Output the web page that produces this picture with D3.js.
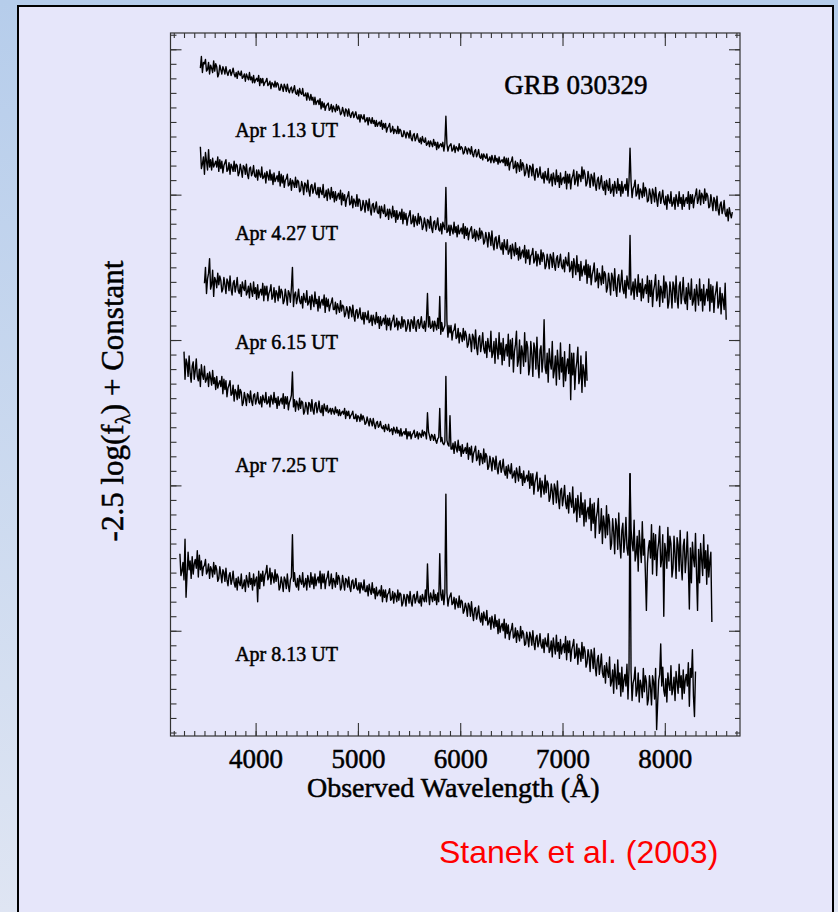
<!DOCTYPE html>
<html>
<head>
<meta charset="utf-8">
<script src="https://cdn.jsdelivr.net/npm/d3@7"></script>
<style>
  body { margin: 0; }
  svg text { font-family: "Liberation Serif", "Times New Roman", serif; fill: #000; }
</style>
</head>
<body>
<script>
// GRB 030329 spectra, sampled every 10 A from the start wavelength
// values: -2.5 log(f) + constant, in units of 0.01 mag
var step = 10;
var epochs = ["Apr 1.13 UT", "Apr 4.27 UT", "Apr 6.15 UT", "Apr 7.25 UT", "Apr 8.13 UT"];
var startWave = [3460, 3460, 3500, 3300, 3260];

var apr01 = [
  13, 5, 16, 9, 10, 7, 15, 14, 9, 17, 11, 13, 16, 8, 15, 10, 12, 19, 17, 11,
  14, 17, 12, 14, 17, 12, 16, 18, 15, 14, 18, 16, 13, 17, 19, 16, 20, 15, 17, 18,
  15, 20, 19, 17, 22, 17, 19, 21, 16, 21, 19, 23, 18, 23, 21, 20, 22, 18, 25, 20,
  23, 20, 25, 23, 22, 20, 25, 24, 22, 27, 23, 24, 26, 22, 26, 23, 24, 28, 28, 24,
  26, 29, 24, 26, 29, 24, 28, 30, 27, 26, 30, 28, 25, 30, 31, 28, 32, 27, 30, 31,
  27, 32, 32, 30, 35, 30, 33, 35, 31, 35, 33, 38, 33, 38, 36, 35, 38, 34, 41, 36,
  40, 37, 42, 39, 38, 37, 42, 41, 38, 43, 39, 41, 43, 38, 42, 39, 41, 45, 44, 40,
  43, 46, 41, 42, 46, 41, 45, 47, 44, 43, 47, 45, 43, 47, 48, 45, 50, 45, 47, 48,
  45, 50, 49, 47, 52, 47, 49, 51, 47, 51, 49, 53, 49, 53, 51, 50, 53, 49, 55, 51,
  54, 51, 57, 54, 53, 51, 57, 56, 53, 58, 55, 56, 58, 53, 58, 55, 56, 60, 60, 56,
  58, 61, 57, 58, 61, 56, 61, 63, 59, 58, 63, 61, 58, 62, 64, 61, 65, 60, 63, 64,
  61, 66, 65, 63, 67, 63, 65, 67, 62, 66, 64, 69, 64, 68, 66, 65, 67, 64, 70, 65,
  46, 65, 70, 67, 66, 65, 70, 69, 66, 71, 67, 68, 70, 65, 69, 67, 68, 72, 71, 67,
  69, 72, 68, 69, 72, 67, 72, 74, 70, 69, 74, 72, 69, 74, 75, 72, 76, 72, 74, 75,
  72, 77, 76, 74, 78, 73, 76, 78, 73, 77, 75, 79, 74, 78, 77, 76, 78, 74, 80, 75,
  80, 75, 83, 78, 77, 74, 82, 81, 77, 85, 78, 80, 84, 76, 83, 78, 80, 87, 85, 79,
  83, 88, 80, 81, 87, 79, 86, 90, 83, 82, 88, 86, 81, 88, 89, 85, 92, 84, 88, 90,
  82, 92, 90, 86, 94, 85, 89, 93, 83, 91, 87, 95, 85, 93, 89, 88, 92, 84, 96, 86,
  92, 86, 96, 89, 87, 83, 93, 90, 84, 94, 86, 87, 91, 81, 89, 83, 86, 94, 92, 84,
  89, 95, 86, 88, 94, 85, 93, 97, 90, 88, 96, 92, 87, 95, 97, 91, 100, 90, 94, 97,
  89, 99, 97, 93, 101, 91, 95, 99, 89, 97, 93, 101, 91, 99, 95, 93, 97, 89, 101, 91,
  68, 91, 102, 96, 94, 90, 101, 99, 93, 103, 96, 98, 102, 92, 101, 95, 97, 105, 104, 96,
  100, 106, 96, 99, 105, 95, 103, 108, 100, 98, 106, 102, 97, 105, 107, 101, 110, 100, 104, 106,
  98, 108, 106, 102, 110, 100, 104, 108, 98, 106, 102, 110, 100, 108, 104, 102, 106, 98, 110, 100,
  106, 100, 109, 103, 100, 96, 106, 103, 97, 107, 99, 101, 106, 96, 104, 99, 101, 109, 108, 100,
  105, 111, 102, 104, 111, 101, 110, 114, 107, 105, 113, 110, 104, 113, 115, 110, 118, 109, 113, 116,
  112
];

var apr04 = [
  67, 82, 79, 74, 86, 71, 77, 83, 69, 81, 76, 83, 75, 81, 79, 77, 81, 74, 84, 76,
  82, 77, 85, 80, 78, 76, 84, 83, 78, 86, 79, 81, 84, 77, 84, 79, 80, 87, 85, 79,
  83, 88, 80, 81, 86, 79, 86, 89, 82, 81, 87, 85, 80, 87, 88, 83, 90, 83, 86, 88,
  81, 89, 88, 85, 92, 84, 87, 90, 83, 90, 86, 93, 85, 91, 89, 87, 91, 84, 94, 86,
  92, 87, 95, 90, 89, 86, 94, 93, 89, 97, 90, 92, 95, 88, 95, 90, 91, 98, 97, 91,
  94, 100, 92, 93, 98, 90, 97, 101, 94, 93, 99, 96, 92, 99, 100, 95, 102, 95, 98, 100,
  93, 102, 101, 97, 104, 96, 99, 103, 95, 102, 98, 105, 98, 104, 101, 99, 103, 97, 107, 99,
  104, 100, 108, 103, 101, 98, 107, 106, 101, 109, 103, 105, 108, 100, 108, 103, 104, 111, 110, 104,
  107, 112, 104, 106, 111, 103, 110, 114, 107, 106, 112, 109, 105, 112, 113, 108, 116, 108, 111, 113,
  107, 115, 114, 110, 117, 110, 113, 116, 108, 115, 111, 119, 111, 117, 114, 112, 117, 110, 120, 112,
  117, 113, 121, 116, 114, 111, 120, 119, 114, 122, 115, 118, 121, 113, 120, 115, 117, 124, 122, 116,
  120, 125, 117, 118, 123, 115, 123, 126, 119, 118, 124, 121, 116, 124, 125, 120, 127, 119, 122, 124,
  95, 126, 125, 121, 128, 121, 124, 127, 119, 126, 122, 129, 121, 127, 125, 123, 127, 120, 130, 122,
  128, 123, 131, 126, 124, 122, 130, 129, 124, 132, 125, 128, 131, 123, 130, 125, 127, 134, 132, 126,
  130, 136, 126, 129, 135, 125, 134, 138, 130, 129, 137, 133, 128, 136, 138, 133, 141, 131, 136, 138,
  131, 141, 139, 135, 144, 134, 138, 142, 133, 141, 137, 145, 136, 144, 140, 138, 143, 135, 147, 138,
  144, 138, 148, 142, 141, 137, 147, 145, 139, 149, 141, 144, 148, 138, 146, 140, 142, 151, 149, 141,
  145, 151, 141, 143, 150, 140, 148, 152, 144, 142, 150, 146, 141, 149, 151, 145, 153, 143, 147, 149,
  140, 153, 151, 146, 157, 144, 149, 155, 142, 153, 148, 159, 146, 156, 152, 149, 155, 145, 161, 148,
  157, 149, 162, 155, 152, 147, 160, 159, 151, 164, 154, 157, 162, 149, 161, 153, 155, 167, 164, 154,
  160, 169, 154, 157, 166, 151, 164, 170, 158, 155, 167, 161, 152, 165, 168, 159, 171, 156, 162, 165,
  128, 169, 166, 160, 172, 158, 164, 170, 155, 167, 161, 173, 158, 171, 165, 162, 168, 156, 174, 159,
  170, 159, 177, 166, 162, 155, 173, 170, 159, 177, 163, 167, 174, 156, 171, 160, 163, 178, 174, 160,
  167, 178, 160, 163, 174, 156, 171, 178, 163, 160, 175, 168, 157, 172, 175, 164, 179, 161, 168, 172,
  158, 176, 173, 165, 180, 162, 169, 176, 158, 173, 165, 180, 162, 176, 169, 165, 173, 158, 180, 162,
  174, 163, 181, 170, 166, 160, 178, 175, 164, 182, 168, 172, 179, 161, 186
];

var apr06 = [
  161, 150, 168, 158, 154, 144, 165, 162, 152, 170, 157, 159, 164, 154, 162, 156, 159, 167, 165, 157,
  162, 168, 158, 160, 166, 156, 165, 169, 161, 159, 167, 163, 157, 166, 168, 162, 170, 160, 164, 166,
  159, 169, 167, 163, 171, 161, 166, 170, 160, 168, 164, 172, 162, 171, 167, 165, 169, 161, 173, 163,
  169, 163, 173, 168, 166, 162, 172, 170, 164, 174, 166, 168, 173, 163, 171, 165, 167, 175, 173, 165,
  170, 176, 166, 168, 174, 164, 150, 177, 169, 167, 175, 171, 165, 173, 175, 170, 178, 168, 172, 174,
  166, 176, 174, 170, 179, 169, 173, 177, 167, 175, 172, 180, 170, 178, 174, 172, 176, 169, 181, 171,
  177, 172, 180, 176, 174, 171, 179, 179, 174, 182, 175, 178, 181, 173, 180, 176, 177, 184, 182, 177,
  180, 185, 177, 179, 184, 176, 183, 187, 180, 179, 185, 182, 178, 185, 186, 181, 189, 181, 184, 186,
  180, 188, 187, 183, 190, 183, 186, 189, 181, 188, 184, 192, 184, 190, 187, 185, 189, 183, 193, 185,
  190, 185, 193, 188, 186, 183, 191, 190, 185, 193, 187, 189, 192, 184, 191, 186, 187, 194, 192, 186,
  189, 194, 186, 187, 192, 184, 191, 194, 187, 186, 192, 189, 184, 191, 192, 187, 194, 186, 168, 191,
  184, 192, 191, 187, 194, 187, 190, 193, 185, 192, 170, 196, 188, 194, 192, 190, 133, 187, 198, 190,
  195, 190, 200, 194, 193, 189, 199, 198, 192, 202, 195, 197, 201, 192, 200, 194, 197, 205, 203, 196,
  200, 208, 196, 198, 206, 193, 205, 210, 199, 197, 208, 203, 195, 206, 209, 201, 212, 199, 205, 208,
  194, 212, 209, 201, 216, 199, 206, 213, 195, 210, 202, 217, 199, 214, 207, 203, 211, 196, 218, 200,
  213, 199, 222, 208, 203, 194, 218, 214, 200, 223, 204, 209, 218, 195, 215, 201, 205, 224, 219, 201,
  210, 225, 202, 206, 220, 198, 217, 226, 207, 204, 222, 213, 186, 219, 223, 209, 229, 206, 215, 220,
  201, 226, 221, 211, 231, 207, 217, 227, 202, 222, 212, 232, 208, 228, 218, 213, 223, 203, 241, 209,
  224, 209, 234, 220, 215, 205, 230, 226, 211, 236, 217, 222, 232, 208, 228
];

var apr07 = [
  208, 227, 213, 216, 225, 211, 223, 229, 218, 215, 227, 221, 213, 225, 228, 220, 232, 217, 224, 227,
  218, 229, 227, 223, 232, 222, 226, 231, 221, 230, 226, 234, 225, 233, 230, 228, 232, 225, 237, 227,
  234, 228, 239, 233, 231, 228, 238, 237, 231, 242, 234, 236, 241, 231, 240, 234, 236, 245, 243, 236,
  240, 245, 237, 238, 243, 235, 242, 245, 238, 237, 244, 241, 236, 243, 244, 239, 246, 238, 241, 243,
  236, 244, 243, 239, 246, 238, 241, 244, 236, 243, 240, 247, 239, 245, 242, 240, 244, 237, 247, 239,
  244, 239, 248, 243, 241, 238, 222, 246, 241, 249, 242, 244, 248, 240, 247, 242, 243, 251, 249, 243,
  246, 251, 243, 244, 249, 241, 248, 251, 244, 243, 250, 247, 242, 249, 250, 245, 252, 244, 247, 249,
  245, 250, 249, 247, 251, 247, 249, 251, 246, 250, 248, 252, 248, 252, 250, 249, 251, 247, 254, 249,
  252, 249, 254, 252, 251, 249, 254, 254, 251, 256, 252, 253, 256, 251, 255, 252, 254, 258, 257, 253,
  256, 259, 254, 256, 259, 254, 258, 261, 257, 256, 260, 259, 256, 260, 261, 259, 263, 258, 261, 262,
  258, 263, 262, 261, 265, 260, 262, 264, 260, 264, 262, 266, 261, 266, 264, 263, 265, 261, 268, 263,
  266, 263, 268, 265, 264, 262, 267, 266, 263, 268, 264, 265, 267, 262, 266, 263, 264, 268, 250, 263,
  266, 269, 265, 266, 269, 265, 269, 271, 268, 267, 247, 270, 267, 271, 272, 270, 225, 269, 272, 273,
  252, 275, 275, 271, 278, 270, 274, 277, 269, 276, 273, 280, 272, 278, 276, 274, 278, 271, 282, 274,
  279, 273, 284, 278, 276, 273, 283, 281, 276, 286, 278, 281, 285, 275, 284, 278, 280, 289, 287, 280,
  284, 290, 281, 283, 289, 280, 288, 292, 285, 283, 291, 288, 282, 290, 293, 287, 295, 286, 290, 292,
  285, 295, 293, 290, 298, 288, 292, 297, 287, 295, 292, 300, 290, 298, 295, 293, 297, 290, 302, 292,
  300, 292, 306, 298, 295, 291, 304, 302, 295, 308, 297, 301, 306, 293, 305, 297, 299, 311, 308, 299,
  304, 313, 299, 302, 312, 297, 309, 316, 304, 302, 314, 308, 300, 312, 316, 307, 319, 305, 311, 315,
  301, 319, 317, 309, 325, 307, 315, 322, 305, 320, 312, 328, 310, 325, 318, 315, 323, 309, 331, 313,
  326, 312, 336, 322, 318, 309, 333, 330, 316, 340, 321, 327, 336, 314, 334, 320, 325, 344, 340, 323,
  332, 347, 323, 328, 344, 319, 340, 350, 331, 326, 346, 337, 322, 343, 348, 334, 292, 330, 340, 345,
  324, 352, 347, 335, 359, 331, 342, 353, 325, 348, 337, 360, 386, 354, 343, 338, 350, 327, 361, 333,
  351, 334, 362, 345, 339, 328, 356, 351, 334, 390, 340, 346, 357, 329, 352, 335, 340, 363, 357, 335,
  347, 364, 336, 341, 359, 331, 354, 365, 342, 337, 360, 349, 332, 355, 385, 343, 367, 339, 350, 356,
  333, 361, 386, 344, 367, 340, 351, 362, 334, 357, 345, 368, 341, 363, 352, 346, 394
];

var apr08 = [
  347, 362, 359, 353, 365, 337, 377, 361, 346, 358, 352, 364, 349, 361, 354, 351, 357, 345, 363, 348,
  358, 352, 362, 356, 355, 351, 361, 359, 354, 364, 356, 358, 363, 353, 361, 355, 358, 366, 364, 356,
  361, 367, 358, 360, 366, 357, 365, 369, 362, 360, 368, 365, 359, 367, 370, 364, 372, 363, 367, 369,
  361, 371, 369, 365, 373, 362, 366, 370, 360, 368, 364, 372, 361, 369, 365, 363, 380, 359, 371, 361,
  366, 359, 369, 362, 360, 355, 365, 363, 357, 368, 360, 363, 367, 358, 366, 361, 363, 372, 370, 363,
  367, 373, 363, 365, 371, 361, 369, 373, 365, 363, 334, 366, 360, 368, 370, 364, 372, 362, 366, 368,
  360, 370, 368, 364, 372, 362, 366, 370, 360, 368, 363, 371, 361, 369, 365, 363, 367, 359, 371, 361,
  367, 361, 371, 365, 363, 359, 369, 367, 361, 371, 364, 366, 370, 360, 368, 362, 364, 372, 370, 362,
  367, 372, 364, 365, 370, 363, 370, 373, 366, 365, 371, 369, 364, 371, 372, 367, 374, 367, 370, 372,
  365, 373, 373, 369, 376, 368, 372, 375, 367, 374, 371, 378, 370, 376, 374, 372, 376, 369, 380, 372,
  377, 372, 380, 375, 374, 371, 379, 378, 373, 381, 374, 376, 380, 372, 379, 374, 375, 383, 381, 375,
  378, 383, 375, 376, 381, 373, 380, 383, 376, 375, 381, 378, 373, 380, 381, 376, 383, 375, 378, 380,
  372, 380, 354, 375, 382, 374, 377, 380, 372, 379, 375, 382, 374, 380, 347, 375, 379, 372, 382, 374,
  306, 374, 383, 378, 376, 374, 382, 381, 377, 385, 378, 381, 384, 376, 384, 379, 380, 388, 386, 381,
  384, 390, 381, 383, 390, 380, 388, 393, 385, 384, 392, 388, 383, 391, 394, 388, 396, 387, 391, 393,
  386, 396, 394, 391, 399, 390, 394, 398, 389, 397, 393, 402, 392, 401, 397, 395, 400, 392, 405, 395,
  402, 396, 406, 401, 399, 395, 405, 404, 398, 408, 400, 403, 407, 397, 405, 400, 402, 410, 409, 401,
  405, 411, 401, 404, 410, 400, 408, 413, 405, 403, 411, 408, 402, 410, 412, 406, 415, 405, 409, 411,
  402, 415, 413, 407, 418, 405, 411, 416, 403, 414, 408, 419, 406, 416, 411, 409, 415, 404, 420, 407,
  415, 407, 421, 413, 410, 406, 419, 417, 409, 423, 412, 415, 421, 408, 419, 411, 414, 425, 422, 413,
  418, 428, 413, 417, 426, 412, 425, 431, 420, 417, 430, 424, 416, 429, 432, 424, 436, 422, 428, 432,
  418, 438, 435, 427, 443, 423, 432, 440, 420, 437, 429, 445, 425, 442, 434, 430, 438, 423, 447, 427,
  292, 428, 448, 436, 433, 425, 445, 441, 429, 449, 434, 438, 446, 426, 442, 431, 435, 451, 447, 431,
  439, 451, 431, 435, 447, 426, 468, 450, 434, 430, 409, 438, 425, 441, 445, 433, 449, 429, 437, 441,
  424, 444, 440, 432, 448, 428, 435, 443, 423, 439, 431, 447, 427, 443, 434, 430, 438, 422, 452, 426,
  432, 413, 445, 459, 428
];

var spectra = [apr01, apr04, apr06, apr07, apr08];
// where each epoch label sits: wavelength (A) and level (0.01 mag)
var labelWave = [3800, 3800, 3800, 3800, 3800];
var labelLevel = [60, 131, 206, 291, 421];
var xMajor = [4000, 5000, 6000, 7000, 8000];

var width = 838, height = 912;

var svg = d3.select("body").append("svg")
    .attr("width", width)
    .attr("height", height);

var defs = svg.append("defs");
var grad = defs.append("linearGradient")
    .attr("id", "bg")
    .attr("x1", 0).attr("y1", 0).attr("x2", 0).attr("y2", 1);
grad.append("stop").attr("offset", "0%").attr("stop-color", "#b6cdeb");
grad.append("stop").attr("offset", "100%").attr("stop-color", "#dfe5f3");

svg.append("rect")
    .attr("width", width).attr("height", height)
    .attr("fill", "url(#bg)");

// slide panel
svg.append("rect")
    .attr("x", 18).attr("y", 6)
    .attr("width", 815).attr("height", 940)
    .attr("fill", "#e6e6fa")
    .attr("stroke", "#000")
    .attr("stroke-width", 2);

var plot = { left: 170.5, right: 740, top: 33, bottom: 736 };

var x = d3.scaleLinear().domain([3168, 8735]).range([plot.left, plot.right]);
var y = d3.scaleLinear().domain([-11.2, 472.4]).range([plot.top, plot.bottom]);

// ticks, all pointing inward
function noLabel() { return ""; }
var minorX = d3.range(3200, 8701, 100);
var minorY = d3.range(-10, 471, 10);

svg.append("g").attr("transform", "translate(0," + plot.bottom + ")")
    .call(d3.axisBottom(x).tickValues(minorX).tickSize(-5).tickFormat(noLabel));
svg.append("g").attr("transform", "translate(0," + plot.top + ")")
    .call(d3.axisTop(x).tickValues(minorX).tickSize(-5).tickFormat(noLabel));
svg.append("g").attr("transform", "translate(0," + plot.top + ")")
    .call(d3.axisTop(x).tickValues(xMajor).tickSize(-13).tickFormat(noLabel));
var bottomAxis = svg.append("g").attr("class", "xaxis")
    .attr("transform", "translate(0," + plot.bottom + ")")
    .call(d3.axisBottom(x).tickValues(xMajor).tickSize(-13).tickFormat(d3.format("d")));
bottomAxis.selectAll("text")
    .attr("y", 32).attr("dy", null)
    .style("font-size", "27px")
    .style("font-family", "'Liberation Serif', serif")
    .attr("stroke", "#000").attr("stroke-width", 0.5);

svg.append("g").attr("transform", "translate(" + plot.left + ",0)")
    .call(d3.axisLeft(y).tickValues(minorY).tickSize(-6).tickFormat(noLabel));
svg.append("g").attr("transform", "translate(" + plot.left + ",0)")
    .call(d3.axisLeft(y).tickValues([0, 100, 200, 300, 400]).tickSize(-11).tickFormat(noLabel));
svg.append("g").attr("transform", "translate(" + plot.right + ",0)")
    .call(d3.axisRight(y).tickValues(minorY).tickSize(-5).tickFormat(noLabel));
svg.append("g").attr("transform", "translate(" + plot.right + ",0)")
    .call(d3.axisRight(y).tickValues([0, 100, 200, 300, 400]).tickSize(-11).tickFormat(noLabel));

svg.selectAll(".domain").remove();
svg.selectAll(".tick line").attr("stroke", "#333").attr("stroke-width", 1.1);

svg.append("rect")
    .attr("x", plot.left).attr("y", plot.top)
    .attr("width", plot.right - plot.left).attr("height", plot.bottom - plot.top)
    .attr("fill", "none")
    .attr("stroke", "#333")
    .attr("stroke-width", 1.2);

// spectra
spectra.forEach(function (vals, k) {
    var line = d3.line()
        .x(function (d, i) { return x(startWave[k] + step * i); })
        .y(function (d) { return y(d); });
    svg.append("path")
        .datum(vals)
        .attr("fill", "none")
        .attr("stroke", "#000")
        .attr("stroke-width", 1.4)
        .attr("stroke-linejoin", "round")
        .attr("d", line);
});

// epoch labels
svg.selectAll("text.epoch")
    .data(epochs)
    .enter().append("text")
    .attr("class", "epoch")
    .attr("x", function (d, i) { return x(labelWave[i]); })
    .attr("y", function (d, i) { return y(labelLevel[i]); })
    .style("font-size", "20px")
    .attr("stroke", "#000").attr("stroke-width", 0.5)
    .text(function (d) { return d; });

svg.append("text")
    .attr("x", x(6430)).attr("y", y(31))
    .style("font-size", "27px")
    .attr("stroke", "#000").attr("stroke-width", 0.5)
    .text("GRB 030329");

svg.append("text")
    .attr("x", (plot.left + plot.right) / 2 - 2).attr("y", 797)
    .attr("text-anchor", "middle")
    .style("font-size", "28px")
    .attr("stroke", "#000").attr("stroke-width", 0.5)
    .text("Observed Wavelength (\u00c5)");

var ylab = svg.append("text")
    .attr("transform", "translate(123,401) rotate(-90)")
    .attr("text-anchor", "middle")
    .style("font-size", "31px")
    .attr("stroke", "#000").attr("stroke-width", 0.5);
ylab.append("tspan").text("-2.5 log(f");
ylab.append("tspan").attr("dy", 7).style("font-size", "21px").text("\u03bb");
ylab.append("tspan").attr("dy", -7).text(") + Constant");

svg.append("text")
    .attr("x", 439).attr("y", 863)
    .style("font-family", "'Liberation Sans', Arial, sans-serif")
    .style("font-size", "32px")
    .style("fill", "#ff0000")
    .text("Stanek et al. (2003)");
</script>
</body>
</html>
